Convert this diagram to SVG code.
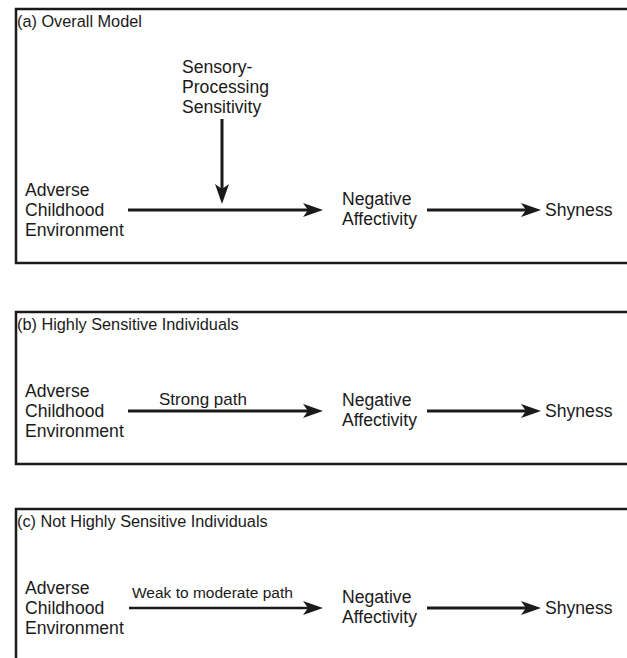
<svg xmlns="http://www.w3.org/2000/svg" width="627" height="658" viewBox="0 0 627 658">
<defs>
<marker id="ah" markerUnits="userSpaceOnUse" markerWidth="20" markerHeight="14" refX="5" refY="7" orient="auto" overflow="visible">
<path d="M0,0 L20,7 L0,14 L5,7 Z" fill="#1a1a1a"/>
</marker>
<style>
.box{fill:none;stroke:#1a1a1a;stroke-width:2.5}
.t{font-family:"Liberation Sans",Arial,sans-serif;font-size:17.6px;fill:#1a1a1a}
.ti{font-family:"Liberation Sans",Arial,sans-serif;font-size:16.3px;fill:#1a1a1a}
.lb{font-family:"Liberation Sans",Arial,sans-serif;font-size:17px;fill:#1a1a1a}
.lw{font-family:"Liberation Sans",Arial,sans-serif;font-size:15.5px;fill:#1a1a1a}
.c{stroke:#1a1a1a;stroke-width:3;fill:none;marker-end:url(#ah)}
.cw{stroke:#1a1a1a;stroke-width:2.5;fill:none;marker-end:url(#ah)}
</style>
</defs>
<rect width="627" height="658" fill="#ffffff"/>

<g id="panel-a">
<rect class="box" x="16" y="9" width="640" height="254"/>
<text class="ti" x="17" y="27">(a) Overall Model</text>
<g id="a-sps"><text class="t" x="182" y="73">Sensory-</text><text class="t" x="182" y="93">Processing</text><text class="t" x="182" y="113">Sensitivity</text></g>
<g id="a-ace"><text class="t" x="25" y="196">Adverse</text><text class="t" x="25" y="216">Childhood</text><text class="t" x="25" y="236">Environment</text></g>
<g id="a-na"><text class="t" x="342" y="205">Negative</text><text class="t" x="342" y="225">Affectivity</text></g>
<g id="a-shy"><text class="t" x="545" y="216">Shyness</text></g>
<g id="a-connectors">
<line class="c" x1="222" y1="119" x2="222" y2="189"/>
<line class="c" x1="128" y1="210" x2="308" y2="210"/>
<line class="c" x1="427" y1="210" x2="526" y2="210"/>
</g>
</g>

<g id="panel-b">
<rect class="box" x="16" y="312" width="640" height="152"/>
<text class="ti" x="17" y="330">(b) Highly Sensitive Individuals</text>
<g id="b-ace"><text class="t" x="25" y="397">Adverse</text><text class="t" x="25" y="417">Childhood</text><text class="t" x="25" y="437">Environment</text></g>
<g id="b-na"><text class="t" x="342" y="406">Negative</text><text class="t" x="342" y="426">Affectivity</text></g>
<g id="b-shy"><text class="t" x="545" y="417">Shyness</text></g>
<g id="b-connectors">
<line class="c" x1="128" y1="411" x2="308" y2="411"/>
<text class="lb" x="159" y="405">Strong path</text>
<line class="c" x1="427" y1="411" x2="526" y2="411"/>
</g>
</g>

<g id="panel-c">
<rect class="box" x="16" y="509" width="640" height="200"/>
<text class="ti" x="17" y="527">(c) Not Highly Sensitive Individuals</text>
<g id="c-ace"><text class="t" x="25" y="594">Adverse</text><text class="t" x="25" y="614">Childhood</text><text class="t" x="25" y="634">Environment</text></g>
<g id="c-na"><text class="t" x="342" y="603">Negative</text><text class="t" x="342" y="623">Affectivity</text></g>
<g id="c-shy"><text class="t" x="545" y="614">Shyness</text></g>
<g id="c-connectors">
<line class="cw" x1="129" y1="608" x2="308" y2="608"/>
<text class="lw" x="132" y="598">Weak to moderate path</text>
<line class="c" x1="427" y1="608" x2="526" y2="608"/>
</g>
</g>
</svg>
